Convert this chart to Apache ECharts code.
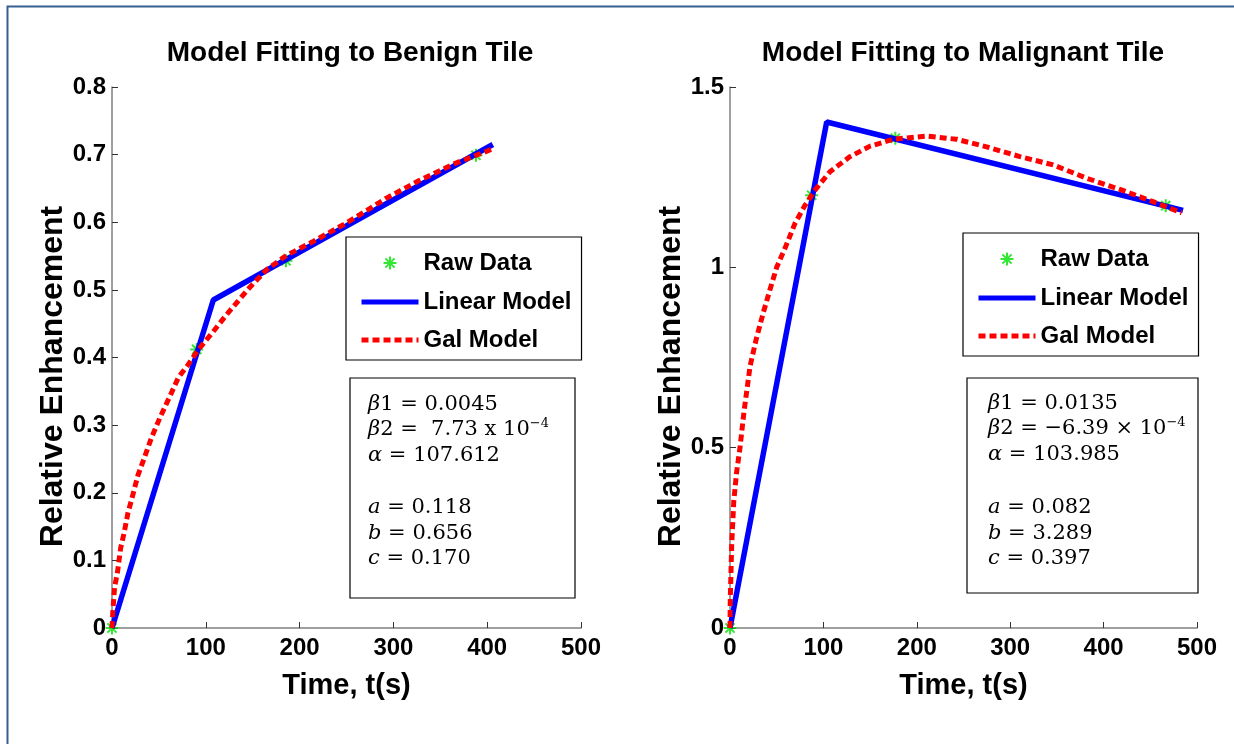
<!DOCTYPE html>
<html lang="en">
<head>
<meta charset="UTF-8">
<title>Model Fitting</title>
<script src="https://cdn.jsdelivr.net/npm/echarts@6/dist/echarts.min.js"></script>
<style>
    html, body { margin: 0; padding: 0; background: #fff; }
    #main { width: 1234px; height: 744px; }
</style>
</head>
<body>
<div id="main"></div>
<script>
// benign tile
var benignRawT = [0, 90.3, 185.5, 388];
var benignRawV = [0, 0.412, 0.543, 0.699];
var benignLinT = [0, 108, 406];
var benignLinV = [0, 0.485, 0.715];
var benignGalT = [0, 1, 2.8, 5.7, 9.2, 12.8, 17, 21.3, 27.7, 33, 42, 50.8, 61.5, 71, 81, 91.7, 109.5, 121.9, 147, 165, 186, 215, 250, 293, 328, 364, 405];
var benignGalV = [0, 0.027, 0.061, 0.081, 0.118, 0.14, 0.17, 0.192, 0.226, 0.246, 0.281, 0.31, 0.342, 0.371, 0.389, 0.411, 0.441, 0.463, 0.504, 0.53, 0.551, 0.572, 0.599, 0.636, 0.662, 0.686, 0.708];

// malignant tile
var malRawT = [0, 87.4, 177, 466.5];
var malRawV = [0, 1.2, 1.358, 1.171];
var malLinT = [0, 103.5, 485];
var malLinV = [0, 1.403, 1.158];
var malGalT = [0, 0.3, 1.8, 4, 7, 10.7, 15, 21.5, 28, 35.7, 43, 50, 60, 69.6, 80.3, 91, 107, 128.5, 150, 174.7, 210.6, 242.7, 274.8, 310.5, 346, 382, 417.6, 453, 483.6];
var malGalV = [0, 0.08, 0.23, 0.35, 0.43, 0.5, 0.6, 0.726, 0.8, 0.875, 0.94, 1.0, 1.06, 1.122, 1.172, 1.214, 1.265, 1.307, 1.336, 1.355, 1.364, 1.355, 1.334, 1.307, 1.284, 1.247, 1.216, 1.182, 1.151];

var xTicks = [0, 500, 100];          // min, max, step
var benignY = [0, 0.8, 0.1];
var malY = [0, 1.5, 0.5];

var titles = ['Model Fitting to Benign Tile', 'Model Fitting to Malignant Tile'];
var legendNames = ['Raw Data', 'Linear Model', 'Gal Model'];
var paramsTop = [
    ['{i|β}1 = 0.0045', '{i|β}2 =  7.73 x 10{s|−4}', '{i|α} = 107.612'],
    ['{i|β}1 = 0.0135', '{i|β}2 = −6.39 × 10{s|−4}', '{i|α} = 103.985']
];
var paramsBottom = [
    ['{i|a} = 0.118', '{i|b} = 0.656', '{i|c} = 0.170'],
    ['{i|a} = 0.082', '{i|b} = 3.289', '{i|c} = 0.397']
];

function zip(t, v) {
    return t.map(function (x, i) { return [x, v[i]]; });
}

var sans = "'Liberation Sans', Arial, sans-serif";
var serif = "'DejaVu Serif', serif";
// asterisk; the two bare moves pad the box so the star keeps a small size in the legend
var star = 'path://M-12,-12M12,12M0,-6.5L0,6.5M-6.5,0L6.5,0M-4.6,-4.6L4.6,4.6M-4.6,4.6L4.6,-4.6';

var grids = [
    {left: 112, top: 87, width: 469, height: 541},
    {left: 730, top: 87, width: 467, height: 541}
];

function xAxis(idx) {
    return {
        type: 'value', gridIndex: idx, min: xTicks[0], max: xTicks[1], interval: xTicks[2],
        name: 'Time, t(s)', nameLocation: 'middle', nameGap: 43,
        nameTextStyle: {fontFamily: sans, fontWeight: 'bold', fontSize: 29, color: '#000'},
        axisLine: {show: true, lineStyle: {color: '#808080', width: 1.5}},
        axisTick: {show: true, inside: true, length: 6, lineStyle: {color: '#333', width: 1}},
        axisLabel: {fontFamily: sans, fontWeight: 'bold', fontSize: 24, color: '#000', margin: 8},
        splitLine: {show: false}
    };
}

function yAxis(idx, t) {
    return {
        type: 'value', gridIndex: idx, min: t[0], max: t[1], interval: t[2],
        name: 'Relative Enhancement', nameLocation: 'middle', nameGap: 43,
        nameTextStyle: {fontFamily: sans, fontWeight: 'bold', fontSize: 32, color: '#000', padding: [0, 38, 0, 0]},
        axisLine: {show: true, lineStyle: {color: '#808080', width: 1.5}},
        axisTick: {show: true, inside: true, length: 6, lineStyle: {color: '#333', width: 1}},
        axisLabel: {fontFamily: sans, fontWeight: 'bold', fontSize: 24, color: '#000', margin: 6},
        splitLine: {show: false}
    };
}

function legend(left, top) {
    return {
        left: left, top: top, orient: 'vertical',
        padding: [13, 10, 8, 13], itemWidth: 57, itemHeight: 24, itemGap: 14,
        backgroundColor: '#fff', borderColor: '#000', borderWidth: 1.2, borderRadius: 0,
        selectedMode: false, lineStyle: {width: 5},
        textStyle: {fontFamily: sans, fontWeight: 'bold', fontSize: 24, color: '#000'},
        data: [
            {name: legendNames[0]},
            {name: legendNames[1], itemStyle: {opacity: 0}},
            {name: legendNames[2], itemStyle: {opacity: 0}}
        ]
    };
}

function series(idx, rawT, rawV, linT, linV, galT, galV) {
    return [{
        name: legendNames[0], type: 'scatter', xAxisIndex: idx, yAxisIndex: idx, z: 1,
        symbol: star, symbolSize: 24,
        itemStyle: {color: '#00e000', borderColor: '#00e000', borderWidth: 2},
        data: zip(rawT, rawV)
    }, {
        name: legendNames[1], type: 'line', xAxisIndex: idx, yAxisIndex: idx, z: 2,
        symbol: 'none', showSymbol: false, lineStyle: {color: '#0000ff', width: 5.5},
        itemStyle: {color: '#0000ff'},
        data: zip(linT, linV)
    }, {
        name: legendNames[2], type: 'line', xAxisIndex: idx, yAxisIndex: idx, z: 3,
        symbol: 'none', showSymbol: false, lineStyle: {color: '#ff0000', width: 5, type: [7, 4]},
        itemStyle: {color: '#ff0000'},
        data: zip(galT, galV)
    }];
}

function textBlock(x, y, lines) {
    return {
        type: 'text', x: x, y: y, z: 10,
        style: {
            text: lines.join('\n'),
            fontFamily: serif, fontSize: 21, lineHeight: 25.5, fill: '#000',
            align: 'left', verticalAlign: 'top',
            rich: {
                i: {fontFamily: serif, fontSize: 21, fontStyle: 'italic', lineHeight: 25.5, fill: '#000'},
                s: {fontFamily: serif, fontSize: 13, lineHeight: 14, verticalAlign: 'top', fill: '#000'}
            }
        }
    };
}

var graphics = [
    {type: 'rect', left: 5, top: 4, z: 0, shape: {width: 1260, height: 780}, style: {fill: 'none', stroke: '#365F91', lineWidth: 2}},
    {type: 'text', x: 350, y: 53, style: {text: titles[0], fontFamily: sans, fontWeight: 'bold', fontSize: 28, fill: '#000', align: 'center', verticalAlign: 'middle'}},
    {type: 'text', x: 963, y: 53, style: {text: titles[1], fontFamily: sans, fontWeight: 'bold', fontSize: 28, fill: '#000', align: 'center', verticalAlign: 'middle'}},
    {type: 'rect', x: 350, y: 378, z: 9, shape: {width: 225, height: 220}, style: {fill: '#fff', stroke: '#000', lineWidth: 1.2}},
    {type: 'rect', x: 967, y: 378, z: 9, shape: {width: 231, height: 215}, style: {fill: '#fff', stroke: '#000', lineWidth: 1.2}},
    textBlock(368, 391.5, paramsTop[0]),
    textBlock(368, 495, paramsBottom[0]),
    textBlock(988, 390.5, paramsTop[1]),
    textBlock(988, 495, paramsBottom[1])
];

var myChart = echarts.init(document.getElementById('main'));
myChart.setOption({
    animation: false,
    backgroundColor: '#fff',
    grid: grids.map(function (g) { return Object.assign({outerBoundsMode: 'none', containLabel: false}, g); }),
    xAxis: [xAxis(0), xAxis(1)],
    yAxis: [yAxis(0, benignY), yAxis(1, malY)],
    legend: [legend(346, 237), legend(963, 233)],
    series: series(0, benignRawT, benignRawV, benignLinT, benignLinV, benignGalT, benignGalV)
        .concat(series(1, malRawT, malRawV, malLinT, malLinV, malGalT, malGalV)),
    graphic: graphics
});
</script>
</body>
</html>
